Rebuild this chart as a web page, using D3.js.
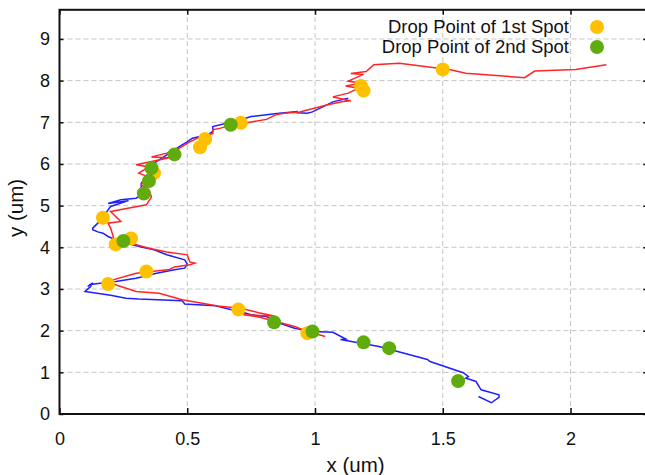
<!DOCTYPE html>
<html><head><meta charset="utf-8">
<script src="https://cdn.jsdelivr.net/npm/d3@7"></script>
<style>html,body{margin:0;padding:0;background:#fff;}svg{display:block;}</style>
</head><body>
<script>
// ---- data ----
const xTicks = [0, 0.5, 1, 1.5, 2];
const xTickLabels = ["0", "0.5", "1", "1.5", "2"];
const yTicks = [0, 1, 2, 3, 4, 5, 6, 7, 8, 9];
const yTickLabels = ["0","1","2","3","4","5","6","7","8","9"];
const seriesNames = ["Drop Point of 1st Spot", "Drop Point of 2nd Spot"];

const redPath = [[2.14,8.38],[2.02,8.27],[1.86,8.23],[1.82,8.07],[1.59,8.18],[1.53,8.26],[1.33,8.42],[1.23,8.38],[1.20,8.22],[1.14,8.17],[1.19,8.15],[1.13,7.99],[1.18,7.94],[1.12,7.87],[1.17,7.82],[1.13,7.70],[1.07,7.61],[1.14,7.52],[1.11,7.50],[1.05,7.42],[0.94,7.25],[0.88,7.22],[0.85,7.19],[0.81,7.07],[0.75,7.01],[0.68,6.94],[0.63,6.86],[0.60,6.82],[0.60,6.73],[0.55,6.65],[0.51,6.53],[0.47,6.38],[0.42,6.26],[0.36,6.17],[0.43,6.15],[0.30,5.98],[0.35,5.93],[0.31,5.78],[0.34,5.71],[0.32,5.50],[0.35,5.38],[0.36,5.21],[0.34,5.02],[0.20,4.86],[0.24,4.62],[0.19,4.58],[0.20,4.46],[0.21,4.27],[0.21,4.18],[0.28,4.10],[0.35,3.98],[0.42,3.89],[0.50,3.82],[0.51,3.65],[0.53,3.62],[0.51,3.58],[0.45,3.53],[0.43,3.47],[0.30,3.38],[0.21,3.22],[0.20,3.14],[0.24,3.06],[0.30,2.94],[0.39,2.90],[0.48,2.74],[0.62,2.59],[0.71,2.54],[0.78,2.43],[0.84,2.35],[0.72,2.38],[0.78,2.33],[0.92,2.10],[0.97,1.98],[1.04,1.86]];

const bluePath = [[1.13,7.58],[1.07,7.49],[0.99,7.25],[0.97,7.22],[0.93,7.23],[0.93,7.26],[0.86,7.22],[0.75,7.14],[0.71,7.06],[0.60,6.90],[0.60,6.78],[0.58,6.70],[0.52,6.62],[0.50,6.53],[0.48,6.46],[0.46,6.38],[0.39,6.10],[0.37,6.02],[0.35,5.81],[0.33,5.62],[0.32,5.54],[0.32,5.38],[0.32,5.26],[0.30,5.18],[0.24,5.14],[0.19,5.05],[0.27,5.12],[0.20,4.98],[0.17,4.73],[0.15,4.58],[0.13,4.46],[0.13,4.42],[0.15,4.37],[0.17,4.34],[0.19,4.26],[0.22,4.18],[0.26,4.10],[0.32,4.01],[0.37,3.94],[0.42,3.82],[0.49,3.70],[0.50,3.60],[0.49,3.50],[0.45,3.46],[0.38,3.38],[0.30,3.26],[0.22,3.18],[0.16,3.14],[0.12,3.11],[0.11,3.06],[0.13,3.15],[0.12,3.05],[0.10,2.94],[0.20,2.85],[0.26,2.78],[0.31,2.76],[0.48,2.72],[0.49,2.64],[0.61,2.60],[0.73,2.42],[0.75,2.38],[0.81,2.34],[0.86,2.18],[0.92,2.06],[0.99,1.98],[1.07,1.96],[1.12,1.80],[1.10,1.79],[1.18,1.70],[1.25,1.62],[1.44,1.31],[1.45,1.26],[1.58,0.99],[1.60,0.90],[1.59,0.86],[1.61,0.82],[1.63,0.78],[1.65,0.58],[1.72,0.46],[1.72,0.40],[1.69,0.27],[1.64,0.42]];

const spot1 = [[1.50,8.27],[1.18,7.87],[1.19,7.76],[0.71,6.99],[0.57,6.60],[0.55,6.40],[0.37,5.78],[0.17,4.71],[0.28,4.21],[0.22,4.07],[0.34,3.42],[0.19,3.12],[0.70,2.51],[0.97,1.94]];
const spot2 = [[0.67,6.94],[0.45,6.23],[0.36,5.90],[0.35,5.59],[0.33,5.29],[0.25,4.15],[0.84,2.20],[0.99,1.98],[1.19,1.72],[1.29,1.58],[1.56,0.79]];

// ---- chart ----
const W = 645, H = 475;
const FONT = "'Liberation Sans', Arial, Helvetica, sans-serif";
const x = d3.scaleLinear().domain([0, 2.3]).range([59.5, 647.2]);
const y = d3.scaleLinear().domain([0, 9.7]).range([414, 9.8]);
const colYellow = "#ffc000", colGreen = "#60ac0e";

const svg = d3.select("body").append("svg").attr("width", W).attr("height", H)
  .style("font-family", FONT);

svg.append("defs").append("clipPath").attr("id", "clip")
  .append("rect").attr("x", x(0)).attr("y", y(9.7))
  .attr("width", x(2.3) - x(0)).attr("height", y(0) - y(9.7));

// grid
const grid = svg.append("g").attr("stroke", "#c4c4c4").attr("stroke-width", 1)
  .attr("stroke-dasharray", "5,3");
grid.selectAll(".gx").data(xTicks.filter(d => d > 0)).join("line")
  .attr("x1", d => x(d)).attr("x2", d => x(d)).attr("y1", y(0)).attr("y2", y(9.7));
grid.selectAll(".gy").data(yTicks.filter(d => d > 0)).join("line")
  .attr("y1", d => y(d)).attr("y2", d => y(d)).attr("x1", x(0)).attr("x2", x(2.3));

// paths
const line = d3.line().x(d => x(d[0])).y(d => y(d[1]));
const plot = svg.append("g").attr("clip-path", "url(#clip)");
plot.append("path").datum(bluePath).attr("d", line).attr("fill", "none")
  .attr("stroke", "#1f1fff").attr("stroke-width", 1.5);
plot.append("path").datum(redPath).attr("d", line).attr("fill", "none")
  .attr("stroke", "#ff2525").attr("stroke-width", 1.5);

plot.selectAll(".s1").data(spot1).join("circle")
  .attr("cx", d => x(d[0])).attr("cy", d => y(d[1])).attr("r", 7).attr("fill", colYellow);
plot.selectAll(".s2").data(spot2).join("circle")
  .attr("cx", d => x(d[0])).attr("cy", d => y(d[1])).attr("r", 7).attr("fill", colGreen);

// axes
function styleAxis(g, hideText) {
  g.select(".domain").remove();
  g.selectAll(".tick line").attr("stroke", "#111").attr("stroke-width", 1.5);
  g.selectAll(".tick text").attr("fill", "#111").style("font-size", "18px").style("font-family", FONT);
  if (hideText) g.selectAll(".tick text").remove();
}
const xi = d3.scaleOrdinal().domain(xTicks).range(xTickLabels);
const yi = d3.scaleOrdinal().domain(yTicks).range(yTickLabels);
svg.append("g").attr("transform", `translate(0,${y(0)})`)
  .call(d3.axisBottom(x).tickValues(xTicks).tickSize(-6).tickPadding(18).tickFormat(d => xi(d)))
  .call(g => styleAxis(g, false));
svg.append("g").attr("transform", `translate(0,${y(9.7)})`)
  .call(d3.axisTop(x).tickValues(xTicks).tickSize(-5))
  .call(g => styleAxis(g, true));
svg.append("g").attr("transform", `translate(${x(0)},0)`)
  .call(d3.axisLeft(y).tickValues(yTicks).tickSize(-4).tickPadding(9.5).tickFormat(d => yi(d)))
  .call(g => styleAxis(g, false));
svg.append("g").attr("transform", `translate(${x(2.3)},0)`)
  .call(d3.axisRight(y).tickValues(yTicks).tickSize(-4))
  .call(g => styleAxis(g, true));

// border
svg.append("rect").attr("x", x(0)).attr("y", y(9.7))
  .attr("width", x(2.3) - x(0)).attr("height", y(0) - y(9.7))
  .attr("fill", "none").attr("stroke", "#111").attr("stroke-width", 2);

// axis titles
svg.append("text").attr("x", 355.5).attr("y", 472).attr("text-anchor", "middle")
  .style("font-size", "20.5px").attr("fill", "#111").text("x (um)");
svg.append("text").attr("transform", "translate(23,208) rotate(-90)").attr("text-anchor", "middle")
  .style("font-size", "20.5px").attr("fill", "#111").text("y (um)");

// legend
const leg = svg.append("g");
[colYellow, colGreen].forEach((c, i) => {
  const cy = 27 + i * 20;
  leg.append("text").attr("x", 569).attr("y", cy + 6).attr("text-anchor", "end")
    .style("font-size", "18.5px").attr("fill", "#111").text(seriesNames[i]);
  leg.append("circle").attr("cx", 597).attr("cy", cy).attr("r", 7).attr("fill", c);
});
</script>
</body></html>
